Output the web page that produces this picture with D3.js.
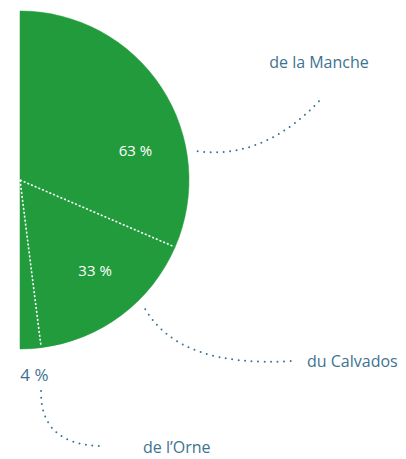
<!DOCTYPE html>
<html>
<head>
<meta charset="utf-8">
<script src="https://cdn.jsdelivr.net/npm/d3@7"></script>
<style>
  body { margin: 0; background: #fff; }
  svg text { font-family: "Open Sans", Lato, sans-serif; }
</style>
</head>
<body>
<svg width="406" height="459"></svg>
<script>
(function () {

  // data
  const names = ["de la Manche", "du Calvados", "de l\u2019Orne"];
  const values = [63, 33, 4];
  const valueLabels = ["63 %", "33 %", "4 %"];

  const green = "#229b3d";
  const teal = "#3d7391";

  const cx = 20, cy = 180, radius = 169;

  // where each label / leader sits (angle in degrees, radius relative to center)
  const layout = [
    { valAngle: 76, valR: 119, valFill: "#fff",
      lead: { a: 80.8, r: 180, ctrl: [265, 160], end: [322, 98] },
      name: [319, 68, "middle"] },
    { valAngle: 140.5, valR: 118, valFill: "#fff",
      lead: { a: 135.9, r: 180, ctrl: [180, 368], end: [292, 361] },
      name: [307, 367, "start"] },
    { valAngle: 175.8, valR: 196, valFill: teal, valSize: 17,
      lead: { a: 174.3, r: 212, ctrl: [40, 445], end: [102, 446] },
      name: [143, 453, "start"] }
  ];

  const svg = d3.select("svg");
  const g = svg.append("g").attr("transform", `translate(${cx},${cy})`);

  const pie = d3.pie()
    .sort(null)
    .startAngle(0)
    .endAngle(Math.PI);

  const arcs = pie(values);

  const arc = d3.arc().innerRadius(0).outerRadius(radius);

  g.selectAll("path.slice")
    .data(arcs)
    .enter().append("path")
    .attr("class", "slice")
    .attr("d", arc)
    .attr("fill", green)
    .attr("stroke", green)
    .attr("stroke-width", 0.5);

  // white dotted separators
  const rad = d3.scaleLinear().domain([0, 180]).range([0, Math.PI]);
  const polar = (a, r) => [r * Math.sin(a), -r * Math.cos(a)];

  g.selectAll("line.sep")
    .data(arcs.slice(1))
    .enter().append("line")
    .attr("class", "sep")
    .attr("x1", 0).attr("y1", 0)
    .attr("x2", d => polar(d.startAngle, radius - 1)[0])
    .attr("y2", d => polar(d.startAngle, radius - 1)[1])
    .attr("stroke", "#fff")
    .attr("stroke-width", 1.6)
    .attr("stroke-dasharray", "2 2");

  // value labels
  g.selectAll("text.val")
    .data(arcs)
    .enter().append("text")
    .attr("class", "val")
    .attr("x", (d, i) => polar(rad(layout[i].valAngle), layout[i].valR)[0])
    .attr("y", (d, i) => polar(rad(layout[i].valAngle), layout[i].valR)[1])
    .attr("dy", "0.35em")
    .attr("text-anchor", "middle")
    .attr("fill", (d, i) => layout[i].valFill)
    .attr("font-size", (d, i) => layout[i].valSize || 15)
    .text((d, i) => valueLabels[i]);

  // dotted leader curves
  svg.selectAll("path.lead")
    .data(layout)
    .enter().append("path")
    .attr("class", "lead")
    .attr("d", l => {
      const s = polar(rad(l.lead.a), l.lead.r);
      const p = d3.path();
      p.moveTo(cx + s[0], cy + s[1]);
      p.quadraticCurveTo(l.lead.ctrl[0], l.lead.ctrl[1], l.lead.end[0], l.lead.end[1]);
      return p.toString();
    })
    .attr("fill", "none")
    .attr("stroke", teal)
    .attr("stroke-width", 2)
    .attr("stroke-linecap", "round")
    .attr("stroke-dasharray", "0 6.5");

  // category names
  svg.selectAll("text.name")
    .data(layout)
    .enter().append("text")
    .attr("class", "name")
    .attr("x", l => l.name[0])
    .attr("y", l => l.name[1])
    .attr("text-anchor", l => l.name[2])
    .attr("fill", teal)
    .attr("font-size", 16)
    .text((l, i) => names[i]);

}());
</script>
</body>
</html>
